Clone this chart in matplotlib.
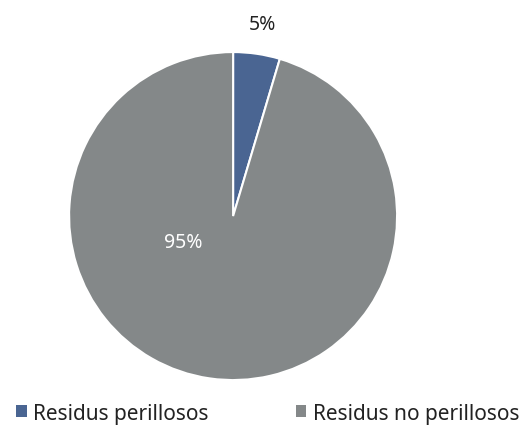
import numpy as np
import matplotlib.pyplot as plt
from matplotlib.patches import Patch

labels = ['Residus perillosos', 'Residus no perillosos']
values = [4.6, 95.4]
colors = ['#4a6592', '#848889']

plt.rcParams['font.family'] = ['Noto Sans', 'DejaVu Sans']

fig = plt.figure(figsize=(5.25, 4.35), dpi=100)
ax = fig.add_axes([0.444 - 0.3124, 0.501 - 0.377, 0.6248, 0.754])
wedges, _ = ax.pie(values, colors=colors, startangle=90, counterclock=False,
                   wedgeprops=dict(edgecolor='white', linewidth=1.5))
ax.set_xlim(-1, 1)
ax.set_ylim(-1, 1)
ax.set_aspect('equal')

pcts = [f'{round(v)}%' for v in values]
# small slice label sits outside, big one inside
ax.text(0.18, 1.17, pcts[0], ha='center', va='center', fontsize=14, color='#222222')
ax.text(-0.305, -0.16, pcts[1], ha='center', va='center', fontsize=14, color='white')

handles = [Patch(facecolor=c, edgecolor='none') for c in colors]
fig.legend(handles, labels, loc='center', bbox_to_anchor=(0.51, 0.048), ncol=2,
           frameon=False, fontsize=15, handlelength=0.5, handleheight=0.5,
           handletextpad=0.3, columnspacing=4.2, labelcolor='#222222',
           borderpad=0)

fig.savefig('out.png', dpi=100)
